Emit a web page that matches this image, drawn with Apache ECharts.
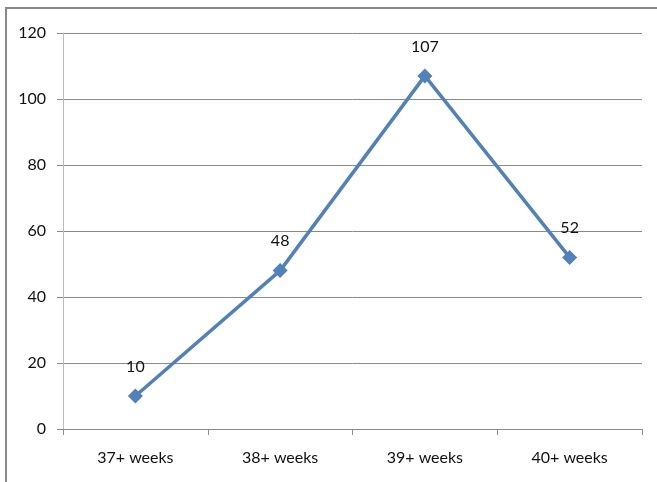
<!DOCTYPE html>
<html><head><meta charset="utf-8">
<script src="https://cdn.jsdelivr.net/npm/echarts@6/dist/echarts.min.js"></script>
<style>html,body{margin:0;padding:0;background:#fff}#c{width:657px;height:482px}</style>
</head><body><div id="c"></div>
<script>
const categories = ["37+ weeks", "38+ weeks", "39+ weeks", "40+ weeks"];
const values = [10, 48, 107, 52];
const yTicks = [0, 20, 40, 60, 80, 100, 120];

const chart = echarts.init(document.getElementById('c'), null, {renderer: 'canvas'});
const font = 'Lato, "Liberation Sans", sans-serif';
chart.setOption({
  animation: false,
  graphic: [{
    type: 'rect', shape: {x: 6, y: 8, width: 700, height: 520},
    style: {fill: 'none', stroke: '#8a8a8a', lineWidth: 2}, z: 0
  }],
  grid: {left: 63, right: 15, top: 33, bottom: 53, containLabel: false},
  xAxis: {
    type: 'category', data: categories, boundaryGap: true,
    axisLine: {lineStyle: {color: '#8a8a8a', width: 1}},
    axisTick: {show: true, alignWithLabel: false, length: 6, lineStyle: {color: '#8a8a8a'}},
    axisLabel: {color: '#111', fontFamily: font, fontSize: 16, margin: 21}
  },
  yAxis: {
    type: 'value', min: yTicks[0], max: yTicks[yTicks.length - 1], interval: 20,
    axisLine: {show: true, lineStyle: {color: '#bdbdbd', width: 1}},
    axisTick: {show: true, length: 6, lineStyle: {color: '#8a8a8a'}},
    axisLabel: {color: '#111', fontFamily: font, fontSize: 16, margin: 17},
    splitLine: {lineStyle: {color: '#8a8a8a', width: 1}}
  },
  series: [{
    type: 'line', data: values,
    lineStyle: {color: '#4f81bd', width: 3.5},
    itemStyle: {color: '#4f81bd'},
    symbol: 'diamond', symbolSize: 15, showAllSymbol: true,
    label: {show: true, position: 'top', distance: 14, color: '#111', fontFamily: font, fontSize: 16}
  }]
});
</script></body></html>
